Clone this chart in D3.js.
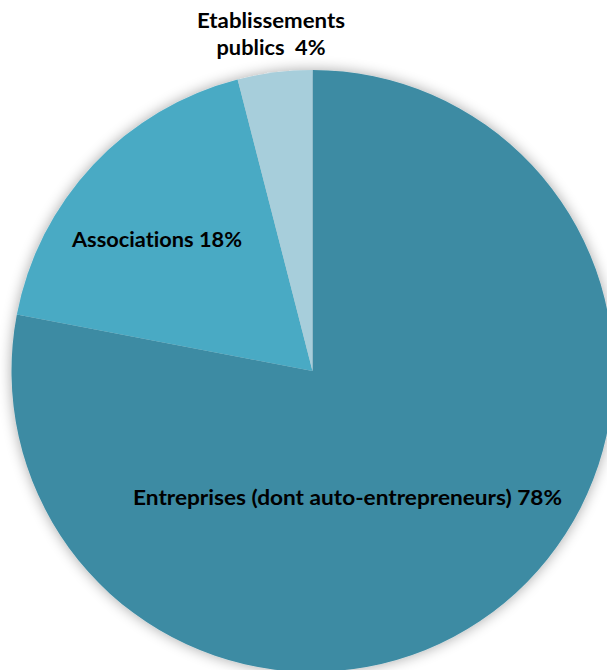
<!DOCTYPE html>
<html>
<head>
<meta charset="utf-8">
<script src="https://cdn.jsdelivr.net/npm/d3@7"></script>
<style>
  html, body { margin: 0; padding: 0; background: #ffffff; }
  svg { display: block; }
  text { font-family: Lato, "Open Sans", sans-serif; font-weight: bold; fill: #000; white-space: pre; font-variant-ligatures: none; }
</style>
</head>
<body>
<svg id="chart" width="607" height="670"></svg>
<script>
// ---- data ----
const categories = ["Entreprises (dont auto-entrepreneurs)", "Associations", "Etablissements publics"];
const values = [78, 18, 4];
const colors = ["#3d8ba3", "#4aaac4", "#a7cedb"];
// label lines (as shown in the chart)
const labelLines = [
  ["Entreprises (dont auto-entrepreneurs) 78%"],
  ["Associations 18%"],
  ["Etablissements", "publics  4%"]
];

// ---- layout ----
const W = 607, H = 670;
const cx = 312.5, cy = 371, R = 301;
// label anchor (center x, first baseline y) and target widths per line
const labelLayout = [
  { x: 347.5, y: 505, widths: [429] },
  { x: 157, y: 247, widths: [170] },
  { x: 271, y: 28, widths: [148, 109], lh: 27 }
];

const svg = d3.select("#chart");
const defs = svg.append("defs");
const f = defs.append("filter").attr("id", "shadow")
  .attr("x", "-20%").attr("y", "-20%").attr("width", "140%").attr("height", "140%");
f.append("feGaussianBlur").attr("in", "SourceAlpha").attr("stdDeviation", 7).attr("result", "b");
f.append("feComponentTransfer").attr("in", "b").attr("result", "bb")
  .append("feFuncA").attr("type", "linear").attr("slope", 0.35);
const m = f.append("feMerge");
m.append("feMergeNode").attr("in", "bb");
m.append("feMergeNode").attr("in", "SourceGraphic");

const data = categories.map((c, i) => ({ cat: c, value: values[i], color: colors[i], i }));
const pie = d3.pie().sort(null).value(d => d.value).startAngle(0).endAngle(2 * Math.PI);
const arc = d3.arc().innerRadius(0).outerRadius(R);

const g = svg.append("g").attr("transform", `translate(${cx},${cy})`);
const arcsG = g.append("g").attr("filter", "url(#shadow)");
arcsG.selectAll("path").data(pie(data)).join("path")
  .attr("d", arc)
  .attr("fill", d => d.data.color);

// labels
labelLines.forEach((lines, i) => {
  const L = labelLayout[i];
  lines.forEach((t, j) => {
    svg.append("text")
      .attr("x", L.x)
      .attr("y", L.y + j * (L.lh || 0))
      .attr("text-anchor", "middle")
      .attr("font-size", 21)
      .attr("textLength", L.widths[j])
      .attr("lengthAdjust", "spacingAndGlyphs")
      .text(t);
  });
});
</script>
</body>
</html>
